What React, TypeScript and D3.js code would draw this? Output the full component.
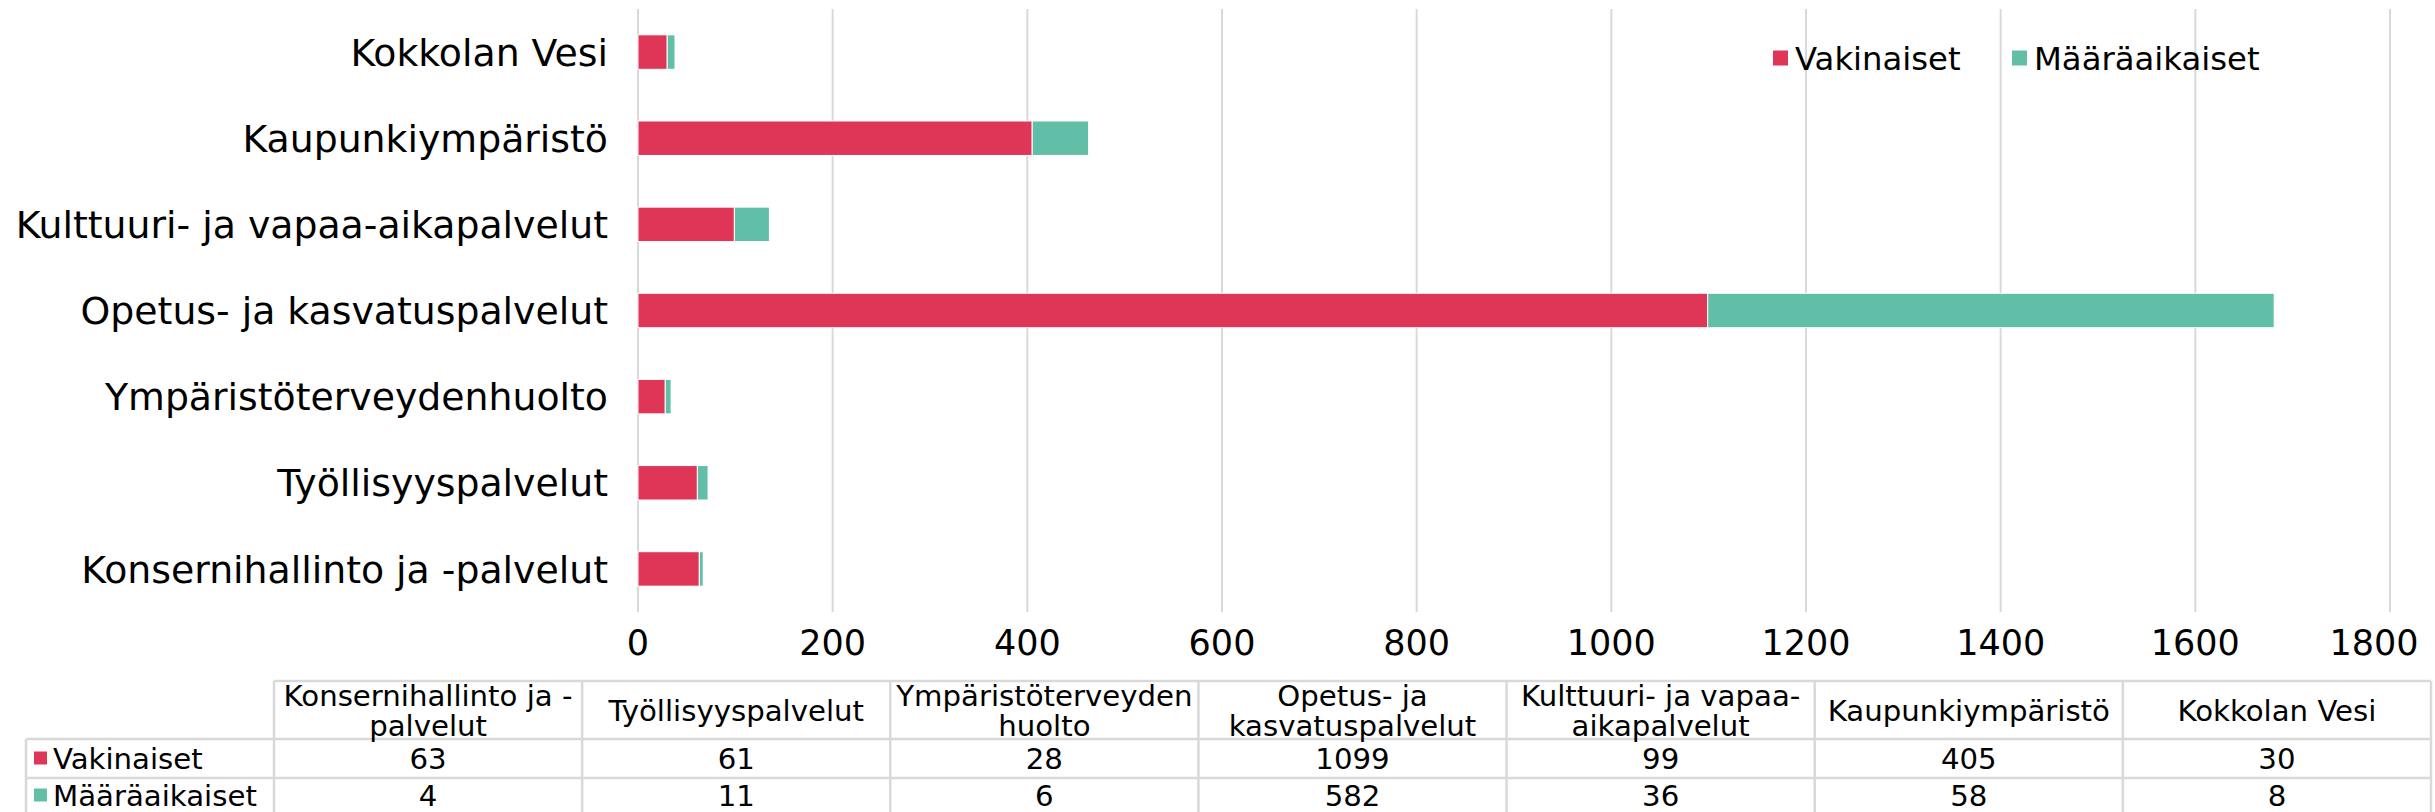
import * as d3 from 'd3'

const categories = [
  'Konsernihallinto ja -palvelut',
  'Työllisyyspalvelut',
  'Ympäristöterveydenhuolto',
  'Opetus- ja kasvatuspalvelut',
  'Kulttuuri- ja vapaa-aikapalvelut',
  'Kaupunkiympäristö',
  'Kokkolan Vesi',
]
// how the table header wraps each category
const tableHeaders = [
  ['Konsernihallinto ja -', 'palvelut'],
  ['Työllisyyspalvelut'],
  ['Ympäristöterveyden', 'huolto'],
  ['Opetus- ja', 'kasvatuspalvelut'],
  ['Kulttuuri- ja vapaa-', 'aikapalvelut'],
  ['Kaupunkiympäristö'],
  ['Kokkolan Vesi'],
]
const seriesNames = ['Vakinaiset', 'Määräaikaiset']
const vakinaiset = [63, 61, 28, 1099, 99, 405, 30]
const maaraaikaiset = [4, 11, 6, 582, 36, 58, 8]
const xTickValues = [0, 200, 400, 600, 800, 1000, 1200, 1400, 1600, 1800]
const colors = ['#DF3556', '#61BFA7']

const W = 2435
const H = 812
const font = "'DejaVu Sans', sans-serif"
const grid = '#D9D9D9'

export default function App() {
  const margin = {top: 9, right: 45, bottom: 200, left: 638}
  const x = d3.scaleLinear().domain([0, 1800]).range([margin.left, W - margin.right])
  const y = d3
    .scaleBand()
    .domain([...categories].reverse())
    .range([margin.top, H - margin.bottom])
    .paddingInner(0.6)
    .paddingOuter(0.3)
  const color = d3.scaleOrdinal<string, string>().domain(seriesNames).range(colors)

  const rows = categories.map((c, i) => ({category: c, Vakinaiset: vakinaiset[i], Määräaikaiset: maaraaikaiset[i]}))
  const stacked = d3.stack<any>().keys(seriesNames)(rows)

  const plotBottom = H - margin.bottom
  const tickY = plotBottom + 30

  // data table
  const col = d3.scaleBand().domain(categories).range([274, 2431])
  const tableLeft = 26
  const rowLines = [681, 739, 778, 817]
  const rowCenters = [758, 795]

  const legendX = 1773
  const legendOffsets = [0, 239]

  return (
    <svg width={W} height={H} style={{display: 'block', background: '#fff'}} fontFamily={font}>
      <style>{`body{margin:0}`}</style>
      {/* gridlines */}
      {xTickValues.map(t => (
        <line key={t} x1={x(t)} x2={x(t)} y1={margin.top} y2={plotBottom} stroke={grid} strokeWidth={2} />
      ))}
      {/* bars */}
      {stacked.map(s => (
        <g key={s.key} fill={color(s.key)}>
          {s.map((d, i) => (
            <rect
              key={i}
              x={x(d[0])}
              y={y(d.data.category)}
              width={x(d[1]) - x(d[0])}
              height={y.bandwidth()}
              stroke="#fff"
              strokeWidth={1}
            />
          ))}
        </g>
      ))}
      {/* category labels */}
      {categories.map(c => (
        <text key={c} x={margin.left - 30} y={(y(c) || 0) + y.bandwidth() / 2} dy="0.36em" textAnchor="end" fontSize={37.8}>
          {c}
        </text>
      ))}
      {/* x tick labels */}
      {xTickValues.map((t, i) => (
        <text
          key={t}
          x={i === xTickValues.length - 1 ? x(t) - 16 : x(t)}
          y={tickY}
          dy="0.36em"
          textAnchor="middle"
          fontSize={35}>
          {t}
        </text>
      ))}
      {/* legend */}
      {seriesNames.map((s, i) => (
        <g key={s} transform={`translate(${legendX + legendOffsets[i]},58)`}>
          <rect x={0} y={-7.5} width={15} height={15} fill={color(s)} />
          <text x={22} dy="0.36em" fontSize={32.3}>
            {s}
          </text>
        </g>
      ))}
      {/* table */}
      <g stroke={grid} strokeWidth={2.5}>
        <line x1={274} x2={2431} y1={rowLines[0]} y2={rowLines[0]} />
        {rowLines.slice(1, 3).map(r => (
          <line key={r} x1={tableLeft} x2={2431} y1={r} y2={r} />
        ))}
        <line x1={tableLeft} x2={tableLeft} y1={rowLines[1]} y2={rowLines[3]} />
        {categories.map(c => (
          <line key={c} x1={col(c)} x2={col(c)} y1={rowLines[0]} y2={rowLines[3]} />
        ))}
        <line x1={2431} x2={2431} y1={rowLines[0]} y2={rowLines[3]} />
      </g>
      {categories.map((c, i) => {
        const cx = (col(c) || 0) + col.bandwidth() / 2
        const lines = tableHeaders[i]
        const mid = (rowLines[0] + rowLines[1]) / 2
        return (
          <g key={c} fontSize={29.2} textAnchor="middle">
            {lines.map((l, li) => (
              <text key={li} x={cx} y={mid + (li - (lines.length - 1) / 2) * 30} dy="0.36em">
                {l}
              </text>
            ))}
            <text x={cx} y={rowCenters[0]} dy="0.36em">
              {vakinaiset[i]}
            </text>
            <text x={cx} y={rowCenters[1]} dy="0.36em">
              {maaraaikaiset[i]}
            </text>
          </g>
        )
      })}
      {seriesNames.map((s, i) => {
        const cy = rowCenters[i]
        return (
          <g key={s}>
            <rect x={34} y={cy - 6.5} width={13} height={13} fill={color(s)} />
            <text x={53} y={cy} dy="0.36em" fontSize={29.2}>
              {s}
            </text>
          </g>
        )
      })}
    </svg>
  )
}
